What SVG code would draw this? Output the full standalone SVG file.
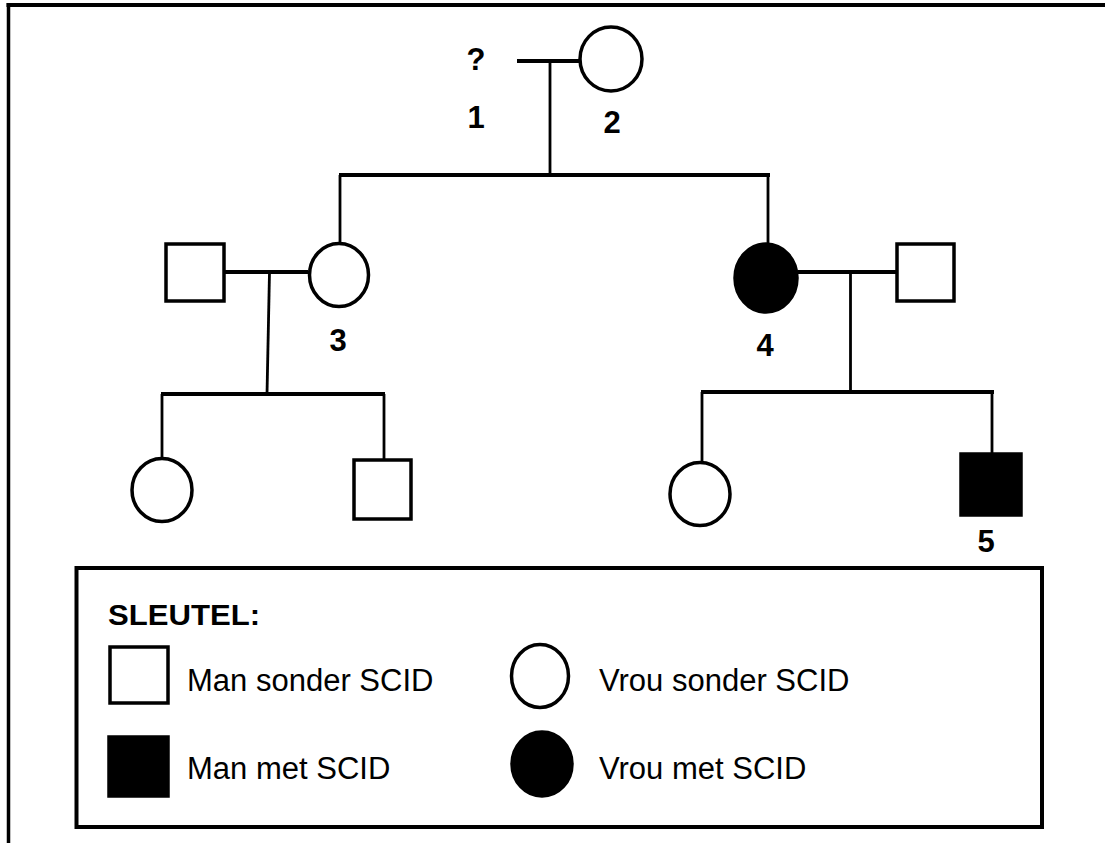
<svg xmlns="http://www.w3.org/2000/svg" width="1105" height="843" viewBox="0 0 1105 843">
<style>
.sh{fill:#fff;stroke:#000;stroke-width:3.5}
.aff{fill:#000;stroke:#000;stroke-width:3.5}
.h{stroke:#000;stroke-width:4;fill:none}
.v{stroke:#000;stroke-width:2.8;fill:none}
.num{font-family:"Liberation Sans",Arial,sans-serif;font-weight:bold;font-size:31px;text-anchor:middle;fill:#000}
.lg{font-family:"Liberation Sans",Arial,sans-serif;font-size:31px;fill:#000}
.lgt{font-family:"Liberation Sans",Arial,sans-serif;font-weight:bold;font-size:29px;fill:#000}
</style>
<rect width="1105" height="843" fill="#fff"/>
<g id="frame">
<line x1="6.5" y1="5" x2="1105" y2="5" stroke="#000" stroke-width="4"/>
<line x1="8.5" y1="3" x2="8.5" y2="843" stroke="#000" stroke-width="3.5"/>
</g>
<g id="connectors">
<line class="h" x1="517" y1="61" x2="580" y2="61"/>
<line class="v" x1="550" y1="61" x2="550" y2="175"/>
<line class="h" x1="339" y1="175" x2="770" y2="175"/>
<line class="v" x1="340" y1="175" x2="340" y2="243"/>
<line class="v" x1="768" y1="175" x2="768" y2="243"/>
<line class="h" x1="224" y1="272" x2="308" y2="272"/>
<line class="v" x1="269.5" y1="272" x2="267" y2="394"/>
<line class="h" x1="161" y1="394" x2="385" y2="394"/>
<line class="v" x1="162" y1="394" x2="162" y2="458"/>
<line class="v" x1="384" y1="394" x2="384" y2="459"/>
<line class="h" x1="798" y1="272" x2="896" y2="272"/>
<line class="v" x1="850.5" y1="272" x2="850.5" y2="392"/>
<line class="h" x1="701" y1="392" x2="994" y2="392"/>
<line class="v" x1="702" y1="392" x2="702" y2="462"/>
<line class="v" x1="992" y1="392" x2="992" y2="453"/>
</g>
<g id="p1"><text class="num" x="476" y="70">?</text><text class="num" x="476" y="128">1</text></g>
<g id="p2"><ellipse class="sh" cx="611" cy="59" rx="31" ry="32"/><text class="num" x="612" y="133">2</text></g>
<g id="p3"><ellipse class="sh" cx="339" cy="275" rx="29.5" ry="31.5"/><text class="num" x="338" y="351">3</text></g>
<g id="p3m"><rect class="sh" x="166" y="244" width="58" height="57"/></g>
<g id="p4"><ellipse class="aff" cx="766" cy="278" rx="31" ry="34"/><text class="num" x="765" y="356">4</text></g>
<g id="p4m"><rect class="sh" x="897" y="244" width="57" height="57"/></g>
<g id="c1"><ellipse class="sh" cx="162" cy="490" rx="30" ry="31.5"/></g>
<g id="c2"><rect class="sh" x="354" y="460" width="57" height="59"/></g>
<g id="c3"><ellipse class="sh" cx="700" cy="494" rx="30" ry="31.5"/></g>
<g id="p5"><rect class="aff" x="961" y="454" width="60" height="61"/><text class="num" x="986" y="552">5</text></g>
<g id="legend">
<rect x="76.5" y="568" width="965.5" height="259" fill="none" stroke="#000" stroke-width="4"/>
<text class="lgt" x="108" y="625" textLength="152" lengthAdjust="spacingAndGlyphs">SLEUTEL:</text>
<rect class="sh" x="110" y="647" width="58" height="56"/>
<text class="lg" x="187" y="691">Man sonder SCID</text>
<ellipse class="sh" cx="540" cy="676" rx="28.5" ry="31.5"/>
<text class="lg" x="599" y="691">Vrou sonder SCID</text>
<rect class="aff" x="109" y="737" width="59" height="59"/>
<text class="lg" x="187" y="779">Man met SCID</text>
<ellipse class="aff" cx="542" cy="764" rx="30" ry="32"/>
<text class="lg" x="599" y="779">Vrou met SCID</text>
</g>
</svg>
